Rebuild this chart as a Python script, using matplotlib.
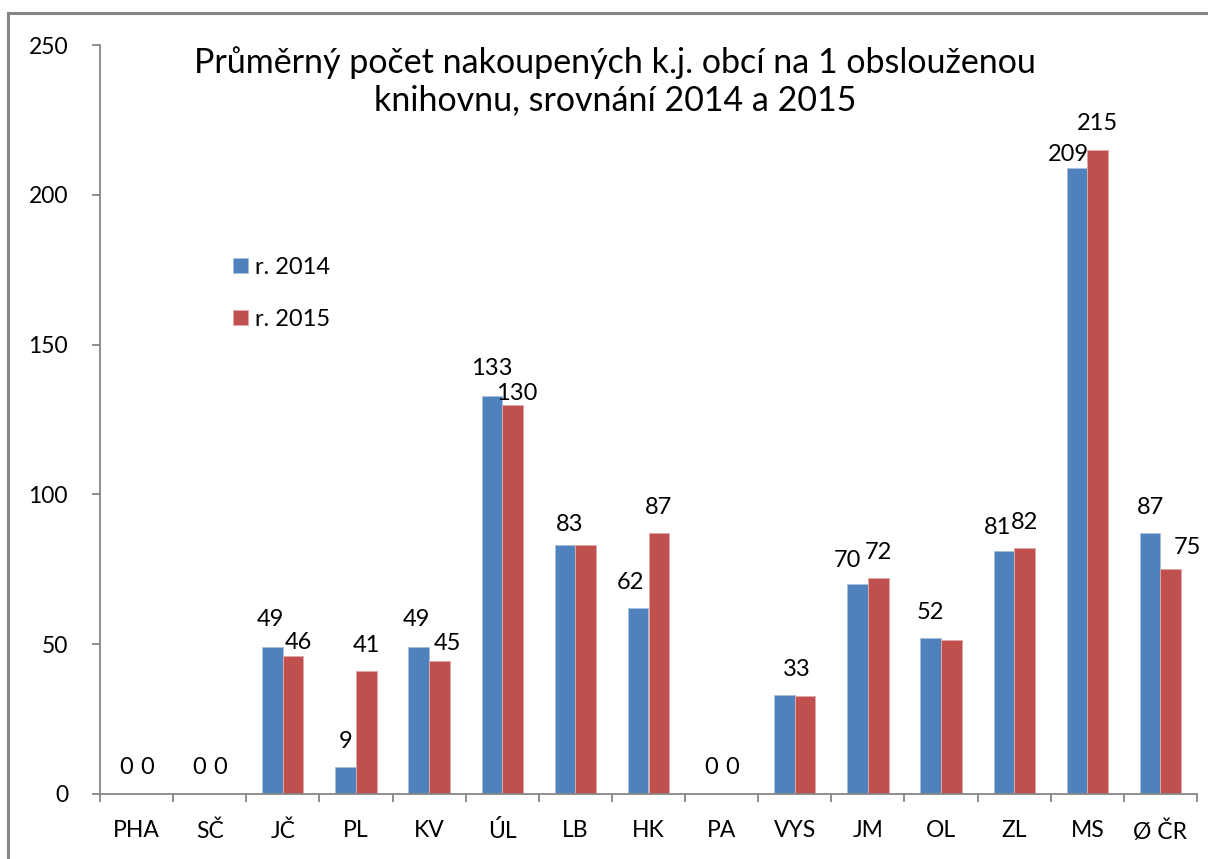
import numpy as np
import matplotlib.pyplot as plt
from matplotlib.lines import Line2D

# data
kraje = ['PHA', 'SČ', 'JČ', 'PL', 'KV', 'ÚL', 'LB', 'HK', 'PA', 'VYS',
         'JM', 'OL', 'ZL', 'MS', 'Ø ČR']
r2014 = [0, 0, 49, 9, 49, 133, 83, 62, 0, 33, 70, 52, 81, 209, 87]
r2015 = [0, 0, 46, 41, 44.5, 130, 83, 87, 0, 32.8, 72, 51.5, 82, 215, 75]
lab2014 = ['0', '0', '49', '9', '49', '133', '83', '62', '0', '33', '70', '52', '81', '209', '87']
lab2015 = ['0', '0', '46', '41', '45', '130', None, '87', '0', None, '72', None, '82', '215', '75']

title = 'Průměrný počet nakoupených k.j. obcí na 1 obslouženou\nknihovnu, srovnání 2014 a 2015'

blue = '#4F81BD'
red = '#C0504D'
grey = '#868686'
font = ['Lato', 'DejaVu Sans']

plt.rcParams['font.family'] = font

W, H = 1208, 859
fig = plt.figure(figsize=(W / 100, H / 100), dpi=100)
ax = fig.add_axes([100 / W, 1 - 794 / H, 1097 / W, 749 / H])

x = np.arange(len(kraje))
w = 0.282
b1 = ax.bar(x - w / 2, r2014, w, color=blue, edgecolor='#A7C0DE', linewidth=0.7, label='r. 2014')
b2 = ax.bar(x + w / 2, r2015, w, color=red, edgecolor='#DFA8A6', linewidth=0.7, label='r. 2015')

# hand-placed label nudges (pixels) as in the original
nudge14 = {2: (-2, 28), 4: (-2, 28), 5: (0, 27), 6: (5, 21), 7: (-8, 26),
           9: (12, 26), 10: (-10, 24), 12: (-6, 24), 13: (-9, 13)}
nudge15 = {2: (5, 14), 4: (8, 17), 5: (4, 11), 14: (17, 22)}

for i in range(len(kraje)):
    if lab2014[i] is not None:
        dx, dy = nudge14.get(i, (0, 26))
        ax.annotate(lab2014[i], (x[i] - w / 2, r2014[i]), xytext=(dx, dy),
                    textcoords='offset pixels', ha='center', va='center',
                    fontsize=17)
    if lab2015[i] is not None:
        dx, dy = nudge15.get(i, (0, 26))
        ax.annotate(lab2015[i], (x[i] + w / 2, r2015[i]), xytext=(dx, dy),
                    textcoords='offset pixels', ha='center', va='center',
                    fontsize=17)

ax.set_xlim(-0.5, len(kraje) - 0.5)
ax.set_ylim(0, 250)
ax.set_yticks(np.arange(0, 251, 50))
ax.set_xticks(x)
ax.set_xticklabels(kraje)
ax.set_xticks(np.arange(-0.5, len(kraje), 1), minor=True)

for s in ['top', 'right']:
    ax.spines[s].set_visible(False)
for s in ['left', 'bottom']:
    ax.spines[s].set_color(grey)
    ax.spines[s].set_linewidth(1.3)

ax.tick_params(axis='x', which='major', length=0, pad=19, labelsize=16.5)
ax.tick_params(axis='x', which='minor', length=6, width=1.3, color=grey, direction='out')
ax.tick_params(axis='y', length=6, width=1.3, color=grey, direction='out', pad=17, labelsize=16.5)

ax.legend(loc='upper left', bbox_to_anchor=(233 / W, 1 - 257 / H), bbox_transform=fig.transFigure,
          frameon=False, fontsize=17, handlelength=0.62, handleheight=0.62,
          handletextpad=0.32, labelspacing=1.3, borderpad=0, borderaxespad=0)

fig.text(615 / W, 1 - 81 / H, title, ha='center', va='center', fontsize=24.5, linespacing=1.22)

# outer chart frame (only top and left visible)
fig.add_artist(Line2D([8 / W, 8 / W], [0, 1 - 13 / H], transform=fig.transFigure,
                      color=grey, linewidth=2.2))
fig.add_artist(Line2D([8 / W, 1], [1 - 13 / H, 1 - 13 / H], transform=fig.transFigure,
                      color=grey, linewidth=2.2))

fig.savefig('out.png', dpi=100)
